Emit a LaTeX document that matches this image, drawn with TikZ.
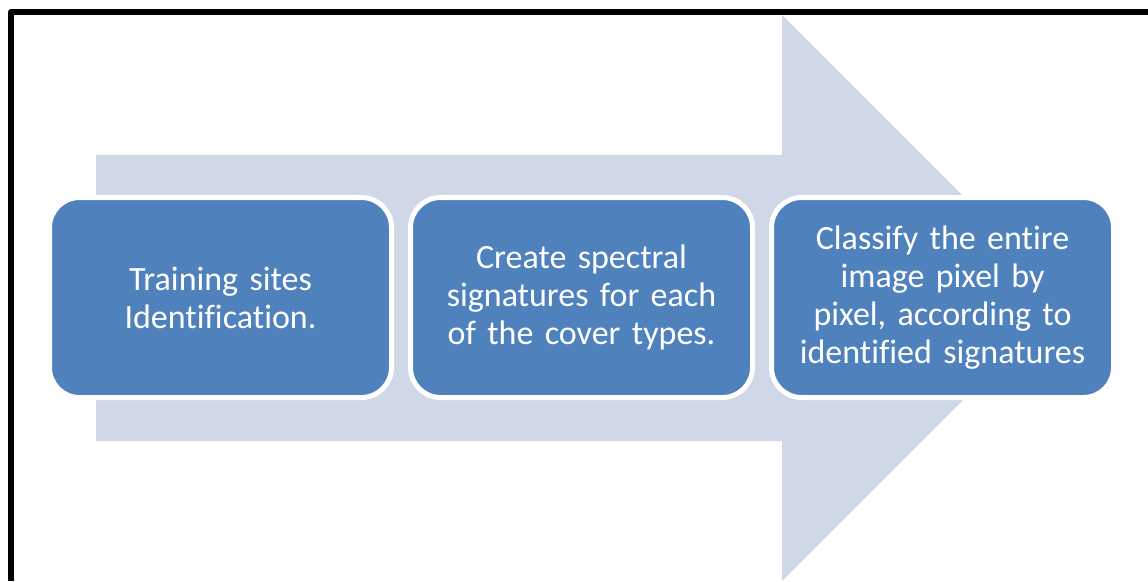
\documentclass[tikz,border=0pt]{standalone}
\usepackage{fontspec}
\setmainfont{Carlito}[Ligatures={NoCommon}]
\usepackage{xcolor}
\definecolor{stageblue}{HTML}{4F81BD}
\definecolor{flowgrey}{HTML}{D0D8E8}

\begin{document}
\begin{tikzpicture}[x=1pt, y=-1pt,
  stage/.style={draw=white, line width=5pt, fill=stageblue, rounded corners=30pt,
    minimum width=342pt, minimum height=200pt, text width=320pt, align=center,
    text=white, font=\fontsize{34}{38}\selectfont}]

\useasboundingbox (0,0) rectangle (1148,581);

% Background arrow
\fill[flowgrey] (96,155) -- (782,155) -- (782,15) -- (1065,298)
  -- (782,581) -- (782,441) -- (96,441) -- cycle;

% Frame
\draw[line width=6pt, line join=round] (11,581) -- (11,12) -- (1148,12);

% Stages
\node[stage] (train) at (220.5,297.5) {Training sites\\Identification.};
\node[stage] (spectra) at (581.5,297.5) {Create spectral\\signatures for each\\of the cover types.};
\node[stage] (classify) at (942.5,297.5) {Classify the entire\\image pixel by\\pixel, according to\\identified signatures};

\end{tikzpicture}
\end{document}
